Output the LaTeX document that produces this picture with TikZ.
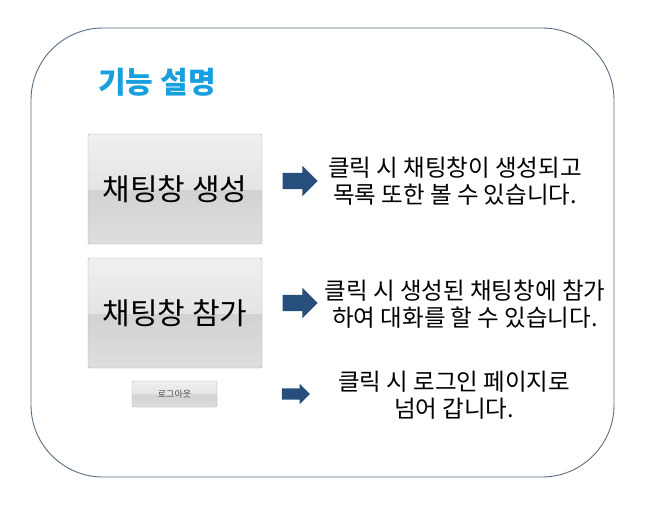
\documentclass[tikz,border=0pt]{standalone}
\usepackage{fontspec}
\setmainfont{Noto Sans CJK KR}
\usetikzlibrary{shapes.arrows}

\definecolor{framegray}{RGB}{88,108,128}
\definecolor{titleblue}{RGB}{24,160,222}
\definecolor{arrowblue}{RGB}{38,79,124}
\definecolor{btntop}{RGB}{240,240,240}
\definecolor{btnhi}{RGB}{228,228,228}
\definecolor{btnmid}{RGB}{210,210,210}
\definecolor{btnlow}{RGB}{222,222,222}

% glossy button: light upper half, darker lower half
\pgfdeclareverticalshading{btnshade}{100bp}{color(0bp)=(btnlow); color(25bp)=(btnlow); color(49.9bp)=(btnmid); color(50bp)=(btnhi); color(75bp)=(btntop); color(100bp)=(btntop)}

\tikzset{
    button/.style={draw=gray!65, rounded corners=2pt, shade, shading=btnshade, inner sep=0pt, text=black},
    pointer/.style={single arrow, fill=arrowblue, inner sep=8pt, single arrow head extend=7pt, minimum height=35pt},
    desc/.style={align=center, font=\fontsize{23.5}{27}\selectfont}
}

\begin{document}
\begin{tikzpicture}[x=1pt,y=-1pt]
    \useasboundingbox (0,0) rectangle (645,507);

    % Draw the rounded frame
    \draw[framegray, line width=0.9pt, rounded corners=72pt] (31,28) rectangle (614,477);

    % Title
    \node (title) at (157,82) [text=titleblue, font=\fontsize{30}{34}\selectfont\bfseries] {기능 설명};

    % The three buttons
    \node (create) at (175,189) [button, minimum width=174pt, minimum height=110pt, font=\fontsize{30}{34}\selectfont] {채팅창 생성};
    \node (join) at (175,313) [button, minimum width=174pt, minimum height=110pt, font=\fontsize{30}{34}\selectfont] {채팅창 참가};
    \node (logout) at (174.5,394) [button, minimum width=85pt, minimum height=26pt, font=\fontsize{9}{10}\selectfont, text=gray!60!black] {로그아웃};

    % Arrows pointing to the explanations
    \node (go1) at (296,181) [pointer] {};
    \node (go2) at (296,303) [pointer] {};
    \node (go3) at (293,394) [pointer, inner sep=5.5pt, minimum height=28pt, single arrow head extend=4.5pt] {};

    % Explanations
    \node (info1) at (455,181) [desc] {클릭 시 채팅창이 생성되고\\목록 또한 볼 수 있습니다.};
    \node (info2) at (465,304) [desc] {클릭 시 생성된 채팅창에 참가\\하여 대화를 할 수 있습니다.};
    \node (info3) at (454,395) [desc] {클릭 시 로그인 페이지로\\넘어 갑니다.};
\end{tikzpicture}
\end{document}
